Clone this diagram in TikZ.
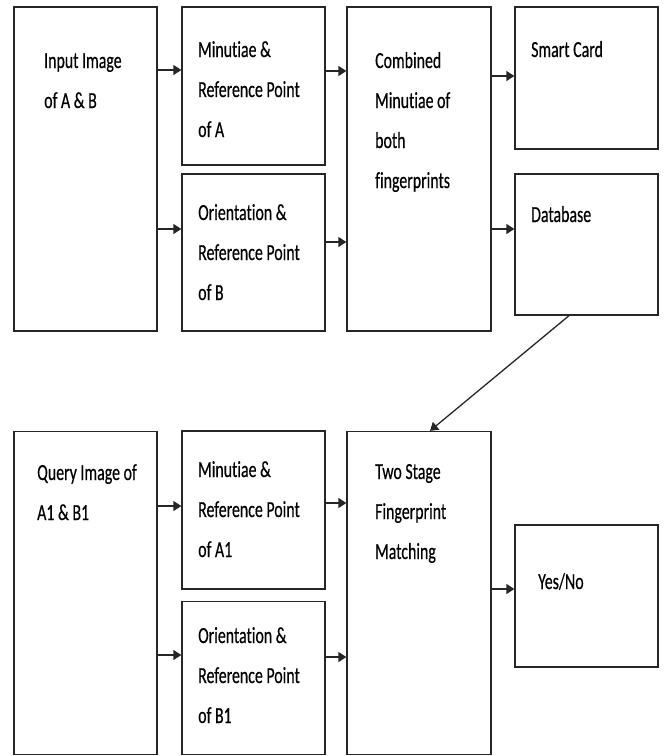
\documentclass[tikz,border=0pt]{standalone}
\usepackage{fontspec}
\setmainfont[FakeStretch=0.69,FakeBold=0.4,Ligatures=NoCommon]{Carlito}
\usetikzlibrary{arrows.meta}
\begin{document}
\begin{tikzpicture}[x=1pt,y=-1pt,
  box/.style={draw=black!85,line width=1.3pt,rectangle,inner sep=0pt},
  lbl/.style={anchor=base west,inner sep=0pt,align=left,font=\fontsize{23}{40}\selectfont},
  arr/.style={draw=black!85,line width=1.3pt,-{Triangle[length=8pt,width=10pt]}}]
\useasboundingbox (0,0) rectangle (664,756);
% boxes
\node[box,minimum width=143pt,minimum height=324pt] (in) at (85.5,169) {};
\node[box,minimum width=143pt,minimum height=158pt] (mA) at (253.5,86) {};
\node[box,minimum width=143pt,minimum height=157pt] (oB) at (253.5,252.5) {};
\node[box,minimum width=144pt,minimum height=324pt] (comb) at (419,169) {};
\node[box,minimum width=143pt,minimum height=142pt] (sc) at (586.5,78) {};
\node[box,minimum width=143pt,minimum height=141pt] (db) at (586.5,244.5) {};
\node[box,minimum width=143pt,minimum height=323pt] (q) at (85.5,593) {};
\node[box,minimum width=143pt,minimum height=158pt] (mA1) at (253.5,510) {};
\node[box,minimum width=143pt,minimum height=153pt] (oB1) at (253.5,678) {};
\node[box,minimum width=144pt,minimum height=323pt] (ts) at (419,593) {};
\node[box,minimum width=143pt,minimum height=142pt] (yn) at (586.5,596) {};
% labels (anchor = baseline of last line)
\node[lbl] (tin) at (44,108) {Input Image\\of A \& B};
\node[lbl] (tmA) at (198,137) {Minutiae \&\\Reference Point\\of A};
\node[lbl] (toB) at (198,300) {Orientation \&\\Reference Point\\of B};
\node[lbl] (tcomb) at (375,188) {Combined\\Minutiae of\\both\\fingerprints};
\node[lbl] (tsc) at (531,57) {Smart Card};
\node[lbl] (tdb) at (531,222) {Database};
\node[lbl] (tq) at (37,520) {Query Image of\\A1 \& B1};
\node[lbl] (tmA1) at (198,557) {Minutiae \&\\Reference Point\\of A1};
\node[lbl] (toB1) at (198,723) {Orientation \&\\Reference Point\\of B1};
\node[lbl] (tts) at (375,559) {Two Stage\\Fingerprint\\Matching};
\node[lbl] (tyn) at (538,589) {Yes/No};
% connectors
\draw[arr] (in.east |- 0,70) -- (mA.west |- 0,70);
\draw[arr] (in.east |- 0,229) -- (oB.west |- 0,229);
\draw[arr] (mA.east |- 0,71) -- (comb.west |- 0,71);
\draw[arr] (oB.east |- 0,242) -- (comb.west |- 0,242);
\draw[arr] (comb.east |- 0,76) -- (sc.west |- 0,76);
\draw[arr] (comb.east |- 0,229) -- (db.west |- 0,229);
\draw[arr] (db.south -| 569,0) -- (ts.north -| 430,0);
\draw[arr] (q.east |- 0,506) -- (mA1.west |- 0,506);
\draw[arr] (q.east |- 0,655) -- (oB1.west |- 0,655);
\draw[arr] (mA1.east |- 0,503) -- (ts.west |- 0,503);
\draw[arr] (oB1.east |- 0,657) -- (ts.west |- 0,657);
\draw[arr] (ts.east |- 0,589) -- (yn.west |- 0,589);
\end{tikzpicture}
\end{document}
